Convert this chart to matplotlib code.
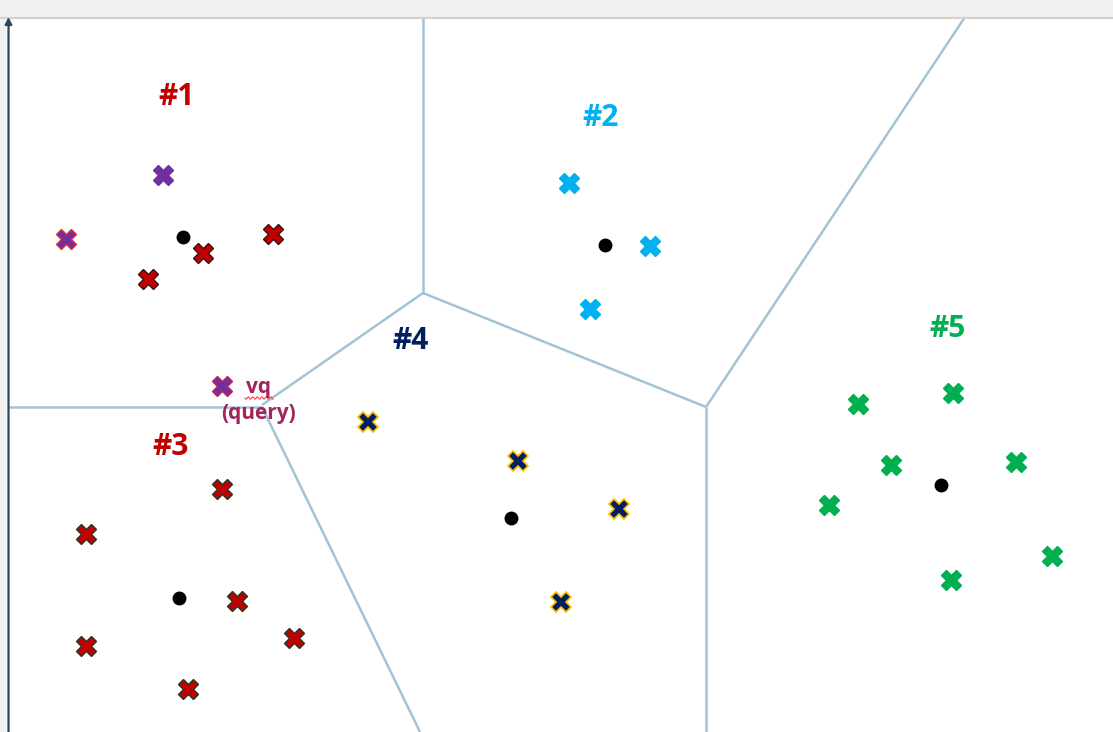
''' Voronoi cells of 5 clusters with a query point vq '''

import numpy as np
from matplotlib import pyplot as plt

# cluster points (pixel-like coordinates, y grows downward)
c1_x = [203, 273, 148]
c1_y = [253, 234, 279]
c1_purple_x = [163]
c1_purple_y = [175]
c1_purple_red_x = [66]
c1_purple_red_y = [239]
c2_x = [569, 650, 590]
c2_y = [183, 246, 309]
c3_x = [222, 86, 237, 86, 294, 188]
c3_y = [489, 534, 601, 646, 638, 689]
c4_x = [368, 518, 619, 561]
c4_y = [422, 461, 509, 602]
c5_x = [858, 953, 891, 1016, 829, 1052, 951]
c5_y = [404, 393, 465, 462, 505, 556, 580]
centroid_x = [183, 605, 179, 511, 941]
centroid_y = [237, 245, 598, 518, 485]
query_x = [222]
query_y = [386]

labels = ["#1", "#2", "#3", "#4", "#5"]
label_x = [177, 601, 171, 411, 947]
label_y = [97, 118, 447, 341, 329]
label_colors = ["#c00000", "#00b0f0", "#c00000", "#002060", "#00b050"]

# voronoi cell edges
edges = [
    ([423, 423], [17, 293]),
    ([423, 706], [293, 407]),
    ([706, 965], [407, 17]),
    ([706, 706], [407, 732]),
    ([423, 262], [293, 405]),
    ([8, 262], [407, 407]),
    ([262, 420], [407, 732]),
]

fig = plt.figure(figsize=(11.13, 7.32), dpi=100)
ax = fig.add_axes([0, 0, 1, 1])
ax.set_xlim(0, 1113)
ax.set_ylim(732, 0)
ax.axis("off")

# window-ish frame bits
ax.axhspan(0, 17, color="#f0f0f0", zorder=0)
ax.plot([0, 1113], [17.5, 17.5], color="#d6d2ca", lw=1.5)
ax.axvspan(0, 5, color="#f1f1f1", zorder=0)
ax.annotate("", xy=(8.5, 17), xytext=(8.5, 732),
            arrowprops=dict(arrowstyle="-|>", color="#2b4659", lw=1.6,
                            mutation_scale=10, shrinkA=0, shrinkB=0))

for ex, ey in edges:
    ax.plot(ex, ey, color="#a3c3d6", lw=1.8, solid_capstyle="butt", zorder=1)

ms = 14
ax.plot(c1_x, c1_y, "X", ms=ms, color="#c00000", mec="#3a1010", mew=1, zorder=3)
ax.plot(c1_purple_x, c1_purple_y, "X", ms=ms, color="#7030a0", mec="#7030a0", mew=1, zorder=3)
ax.plot(c1_purple_red_x, c1_purple_red_y, "X", ms=ms, color="#7030a0", mec="#e03030", mew=1, zorder=3)
ax.plot(query_x, query_y, "X", ms=ms, color="#7030a0", mec="#d02040", mew=1, zorder=3)
ax.plot(c2_x, c2_y, "X", ms=ms, color="#00b0f0", mec="#00b0f0", mew=1, zorder=3)
ax.plot(c3_x, c3_y, "X", ms=ms, color="#c00000", mec="#1f3b2a", mew=1, zorder=3)
ax.plot(c4_x, c4_y, "X", ms=ms, color="#002060", mec="#ffc000", mew=1.2, zorder=3)
ax.plot(c5_x, c5_y, "X", ms=ms, color="#00b050", mec="#00b050", mew=1, zorder=3)
ax.plot(centroid_x, centroid_y, "o", ms=9, color="black", zorder=3)

for t, x, y, c in zip(labels, label_x, label_y, label_colors):
    ax.text(x, y, t, color=c, fontsize=21.5, fontweight="bold", family="Open Sans",
            ha="center", va="center")

# query label
qc = "#a3245a"
ax.text(259, 387, "vq", color=qc, fontsize=15, fontweight="bold",
        family="Open Sans", ha="center", va="center")
ax.text(259, 413, "(query)", color=qc, fontsize=15, fontweight="bold",
        family="Open Sans", ha="center", va="center")
wx = np.linspace(245, 273, 40)
ax.plot(wx, 398 + 1.2 * np.sin((wx - 245) * 1.4), color="#ff4040", lw=0.8)

fig.savefig("out.png", dpi=100)
